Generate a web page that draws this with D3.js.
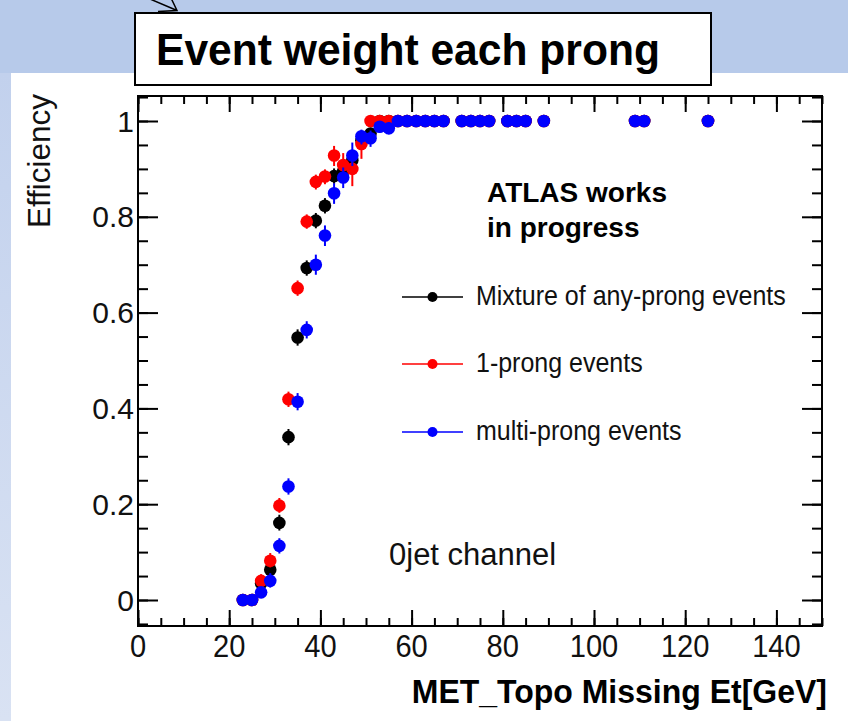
<!DOCTYPE html>
<html>
<head>
<meta charset="utf-8">
<script src="https://cdn.jsdelivr.net/npm/d3@7"></script>
<style>
  html, body { margin: 0; padding: 0; background: #ffffff; }
  svg { display: block; }
  text { font-family: "Liberation Sans", Arial, Helvetica, sans-serif; }
</style>
</head>
<body>
<svg id="chart" width="848" height="721"></svg>
<script>
// MET bin centres (GeV)
const metBins = [23, 25, 27, 29, 31, 33, 35, 37, 39, 41, 43, 45, 47, 49, 51, 53, 55,
                 57, 59, 61, 63, 65, 67, 71, 73, 75, 77, 81, 83, 85, 89, 109, 111, 125];

// Trigger efficiency per bin, mixture of any-prong events
const effMixture = [0, 0, 0.035, 0.063, 0.161, 0.340, 0.548, 0.693, 0.792, 0.823, 0.885, 0.895, 0.918, 0.960, 0.974, 1, 1,
                    1, 1, 1, 1, 1, 1, 1, 1, 1, 1, 1, 1, 1, 1, 1, 1, 1];
const errLoMixture = [0, 0, 0.012, 0.015, 0.016, 0.017, 0.017, 0.016, 0.016, 0.016, 0.016, 0.016, 0.016, 0.015, 0.014, 0.01, 0.01,
                      0.01, 0.01, 0.01, 0.01, 0.01, 0.01, 0.01, 0.01, 0.01, 0.01, 0.01, 0.01, 0.01, 0.01, 0.01, 0.01, 0.01];
const errHiMixture = [0.01, 0.01, 0.014, 0.016, 0.017, 0.017, 0.017, 0.016, 0.016, 0.016, 0.016, 0.016, 0.015, 0.013, 0.012, 0, 0,
                      0, 0, 0, 0, 0, 0, 0, 0, 0, 0, 0, 0, 0, 0, 0, 0, 0];

// 1-prong events
const eff1Prong = [0, 0, 0.040, 0.082, 0.197, 0.419, 0.651, 0.790, 0.873, 0.884, 0.928, 0.908, 0.900, 0.952, 1, 1, 1,
                   1, 1, 1, 1, 1, 1, 1, 1, 1, 1, 1, 1, 1, 1, 1, 1, 1];
const errLo1Prong = [0, 0, 0.012, 0.014, 0.015, 0.016, 0.016, 0.015, 0.016, 0.016, 0.022, 0.027, 0.036, 0.031, 0.012, 0.01, 0.01,
                     0.01, 0.01, 0.01, 0.01, 0.01, 0.01, 0.01, 0.01, 0.01, 0.01, 0.01, 0.01, 0.01, 0.01, 0.01, 0.01, 0.01];
const errHi1Prong = [0.01, 0.01, 0.014, 0.016, 0.016, 0.016, 0.016, 0.015, 0.015, 0.015, 0.020, 0.025, 0.027, 0.015, 0, 0, 0,
                     0, 0, 0, 0, 0, 0, 0, 0, 0, 0, 0, 0, 0, 0, 0, 0, 0];

// multi-prong events
const effMultiProng = [0, 0, 0.016, 0.040, 0.113, 0.237, 0.414, 0.564, 0.700, 0.761, 0.849, 0.882, 0.928, 0.968, 0.964, 0.988, 0.985,
                       1, 1, 1, 1, 1, 1, 1, 1, 1, 1, 1, 1, 1, 1, 1, 1, 1];
const errLoMultiProng = [0, 0, 0.010, 0.014, 0.016, 0.017, 0.018, 0.018, 0.021, 0.022, 0.022, 0.022, 0.022, 0.017, 0.018, 0.012, 0.013,
                         0.012, 0.012, 0.012, 0.012, 0.012, 0.012, 0.012, 0.012, 0.012, 0.012, 0.012, 0.012, 0.012, 0.012, 0.012, 0.012, 0.012];
const errHiMultiProng = [0.01, 0.01, 0.012, 0.016, 0.016, 0.017, 0.018, 0.018, 0.021, 0.021, 0.021, 0.021, 0.027, 0.014, 0.016, 0.010, 0.012,
                         0, 0, 0, 0, 0, 0, 0, 0, 0, 0, 0, 0, 0, 0, 0, 0, 0];

// Axis ticks and labels
const xMajorTicks = [0, 20, 40, 60, 80, 100, 120, 140];
const xMinorTicks = d3.range(0, 150.01, 5);
const yMajorTicks = [0, 0.2, 0.4, 0.6, 0.8, 1];
const yTickLabels = ["0", "0.2", "0.4", "0.6", "0.8", "1"];
const yMinorTicks = d3.range(-0.05, 1.0501, 0.05);

const seriesNames = ["Mixture of any-prong events", "1-prong events", "multi-prong events"];
const seriesColors = ["#000000", "#ff0000", "#0000ff"];

const titleText = "Event weight each prong";
const xTitle = "MET_Topo Missing Et[GeV]";
const yTitle = "Efficiency";
const noteLines = ["ATLAS works", "in progress"];
const channelText = "0jet channel";

// ---------------------------------------------------------------
const svg = d3.select("#chart");
const W = 848, H = 721;
const frame = { left: 138, right: 822, top: 96, bottom: 626 };

const x = d3.scaleLinear().domain([0, 150]).range([frame.left, frame.right]);
const y = d3.scaleLinear().domain([0, 1]).range([600, 121]);

// slide background
const defs = svg.append("defs");
const grad = defs.append("linearGradient").attr("id", "sideGrad")
  .attr("x1", 0).attr("y1", 0).attr("x2", 0).attr("y2", 1);
grad.append("stop").attr("offset", "0%").attr("stop-color", "#c2d1ed");
grad.append("stop").attr("offset", "100%").attr("stop-color", "#d9e2f3");

svg.append("rect").attr("x", 0).attr("y", 0).attr("width", W).attr("height", H).attr("fill", "#ffffff");
svg.append("rect").attr("x", 0).attr("y", 0).attr("width", W).attr("height", 73).attr("fill", "#b7caea");
svg.append("rect").attr("x", 0).attr("y", 73).attr("width", 11).attr("height", H - 73).attr("fill", "url(#sideGrad)");

// pointer arrow at the top edge
svg.append("path")
  .attr("d", "M150,-1 L177,10.5 M171,-2 L177,10.5 L158,11.5")
  .attr("fill", "none").attr("stroke", "#000").attr("stroke-width", 1.5);

// title box
svg.append("rect").attr("x", 135).attr("y", 13).attr("width", 576).attr("height", 72)
  .attr("fill", "#ffffff").attr("stroke", "#000").attr("stroke-width", 2);
svg.append("text")
  .attr("transform", "translate(156,65) scale(1,1.05)")
  .attr("font-size", 42.6).attr("font-weight", "bold").attr("fill", "#000")
  .text(titleText);

// axes: ticks point inward on all four sides
const gAxes = svg.append("g").attr("class", "axes");
function tickAxis(axisFn, scale, values, size, transform) {
  const g = gAxes.append("g").attr("transform", transform)
    .call(axisFn(scale).tickValues(values).tickSize(-size).tickSizeOuter(0).tickFormat(""));
  g.select(".domain").remove();
  g.selectAll(".tick line").attr("stroke", "#000").attr("stroke-width", 2);
  return g;
}
tickAxis(d3.axisBottom, x, xMajorTicks, 16, `translate(0,${frame.bottom})`);
tickAxis(d3.axisBottom, x, xMinorTicks, 8, `translate(0,${frame.bottom})`);
tickAxis(d3.axisTop, x, xMajorTicks, 16, `translate(0,${frame.top})`);
tickAxis(d3.axisTop, x, xMinorTicks, 8, `translate(0,${frame.top})`);
tickAxis(d3.axisLeft, y, yMajorTicks, 20, `translate(${frame.left},0)`);
tickAxis(d3.axisLeft, y, yMinorTicks, 10, `translate(${frame.left},0)`);
tickAxis(d3.axisRight, y, yMajorTicks, 20, `translate(${frame.right},0)`);
tickAxis(d3.axisRight, y, yMinorTicks, 10, `translate(${frame.right},0)`);

gAxes.append("rect")
  .attr("x", frame.left).attr("y", frame.top)
  .attr("width", frame.right - frame.left).attr("height", frame.bottom - frame.top)
  .attr("fill", "none").attr("stroke", "#000").attr("stroke-width", 2);

// tick labels
svg.append("g").selectAll("text").data(xMajorTicks).join("text")
  .attr("transform", d => `translate(${x(d)},657) scale(0.97,1.05)`)
  .attr("text-anchor", "middle").attr("font-size", 30).attr("fill", "#111")
  .text(d => d);
svg.append("g").selectAll("text").data(yMajorTicks).join("text")
  .attr("x", 134).attr("y", d => y(d) + 10.5)
  .attr("text-anchor", "end").attr("font-size", 30).attr("fill", "#111")
  .text((d, i) => yTickLabels[i]);

// axis titles
svg.append("text")
  .attr("transform", "translate(50,161) rotate(-90)")
  .attr("text-anchor", "middle").attr("font-size", 31.5).attr("fill", "#111")
  .text(yTitle);
svg.append("text")
  .attr("transform", "translate(827,703) scale(1,1.05)")
  .attr("text-anchor", "end").attr("font-size", 32).attr("font-weight", "bold").attr("fill", "#000")
  .text(xTitle);

// data points with asymmetric error bars
const series = [
  { name: seriesNames[0], color: seriesColors[0], eff: effMixture, lo: errLoMixture, hi: errHiMixture },
  { name: seriesNames[1], color: seriesColors[1], eff: eff1Prong, lo: errLo1Prong, hi: errHi1Prong },
  { name: seriesNames[2], color: seriesColors[2], eff: effMultiProng, lo: errLoMultiProng, hi: errHiMultiProng }
];

const gData = svg.append("g").attr("class", "data");
series.forEach(s => {
  const pts = metBins.map((m, i) => ({ m, e: s.eff[i], lo: s.lo[i], hi: s.hi[i] }));
  const g = gData.append("g");
  g.selectAll("line").data(pts).join("line")
    .attr("x1", d => x(d.m)).attr("x2", d => x(d.m))
    .attr("y1", d => y(d.e - d.lo)).attr("y2", d => y(d.e + d.hi))
    .attr("stroke", s.color).attr("stroke-width", 2);
  g.selectAll("circle").data(pts).join("circle")
    .attr("cx", d => x(d.m)).attr("cy", d => y(d.e))
    .attr("r", 6.3).attr("fill", s.color);
});

// annotations
const note = svg.append("text").attr("font-size", 28).attr("font-weight", "bold").attr("fill", "#000");
note.selectAll("tspan").data(noteLines).join("tspan")
  .attr("x", 487).attr("y", (d, i) => 202 + i * 35).text(d => d);

svg.append("text")
  .attr("x", 389).attr("y", 565).attr("font-size", 31).attr("fill", "#111")
  .text(channelText);

// legend
const legendRows = [297, 364, 432];
const gLeg = svg.append("g").attr("class", "legend");
series.forEach((s, i) => {
  const ly = legendRows[i];
  gLeg.append("line").attr("x1", 402).attr("x2", 463).attr("y1", ly).attr("y2", ly)
    .attr("stroke", s.color).attr("stroke-width", 1.6);
  gLeg.append("circle").attr("cx", 432.5).attr("cy", ly).attr("r", 5).attr("fill", s.color);
  gLeg.append("text")
    .attr("transform", `translate(476,${ly + 8}) scale(1,1.1)`)
    .attr("font-size", 25).attr("fill", "#111")
    .text(s.name);
});
</script>
</body>
</html>
